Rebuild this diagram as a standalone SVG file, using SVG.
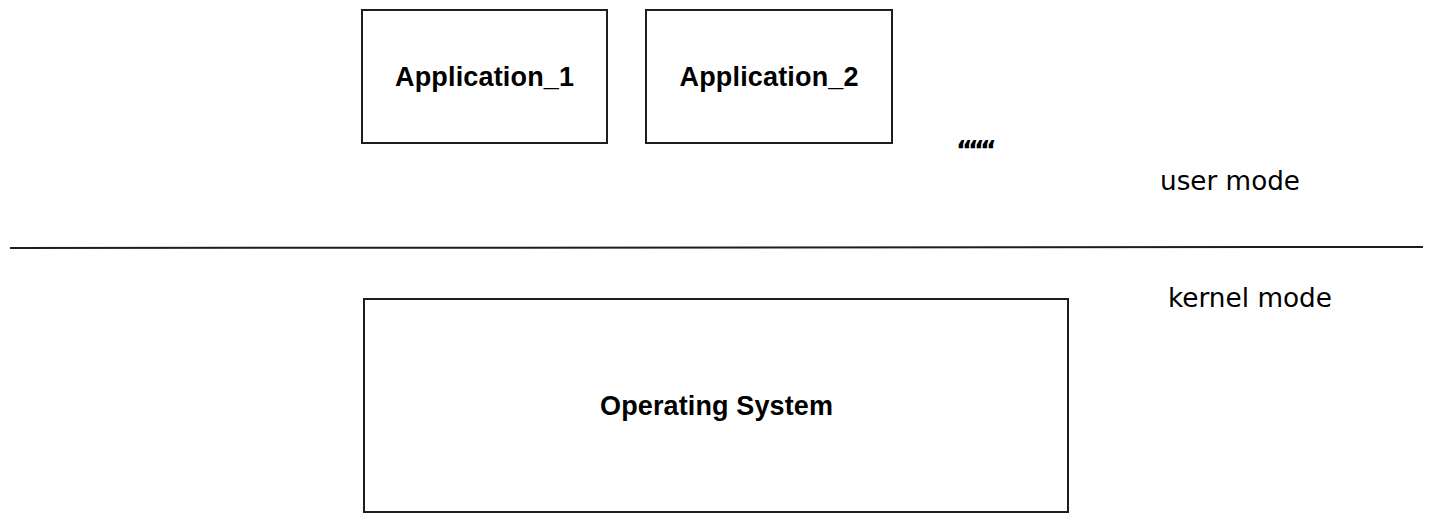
<svg xmlns="http://www.w3.org/2000/svg" width="1433" height="523" viewBox="0 0 1433 523">
<style>
.box{fill:#fff;stroke:#1e1e1e;stroke-width:2}
.lbl{font-family:"Liberation Sans",Arial,sans-serif;font-weight:bold;font-size:27px;fill:#000;text-anchor:middle}
.hand{font-family:"Comic Sans MS","DejaVu Sans",cursive;font-size:26px;fill:#000}
</style>
<rect width="1433" height="523" fill="#fff"/>
<g id="app1"><rect class="box" x="362" y="10" width="245" height="133"/><text class="lbl" x="484.5" y="86" textLength="179">Application_1</text></g>
<g id="app2"><rect class="box" x="646" y="10" width="246" height="133"/><text class="lbl" x="769" y="86" textLength="179">Application_2</text></g>
<g id="os"><rect class="box" x="364" y="299" width="704" height="213"/><text class="lbl" x="716.5" y="415" textLength="233">Operating System</text></g>
<g id="connectors"><line x1="10" y1="248" x2="1423" y2="247" stroke="#1e1e1e" stroke-width="2"/></g>
<g id="labels">
<text class="hand" x="956" y="160" font-size="20" font-weight="bold" textLength="40">‘‘‘‘‘‘</text>
<text class="hand" x="1160" y="190" textLength="140" lengthAdjust="spacingAndGlyphs">user mode</text>
<text class="hand" x="1168" y="307" textLength="164" lengthAdjust="spacingAndGlyphs">kernel mode</text>
</g>
</svg>
